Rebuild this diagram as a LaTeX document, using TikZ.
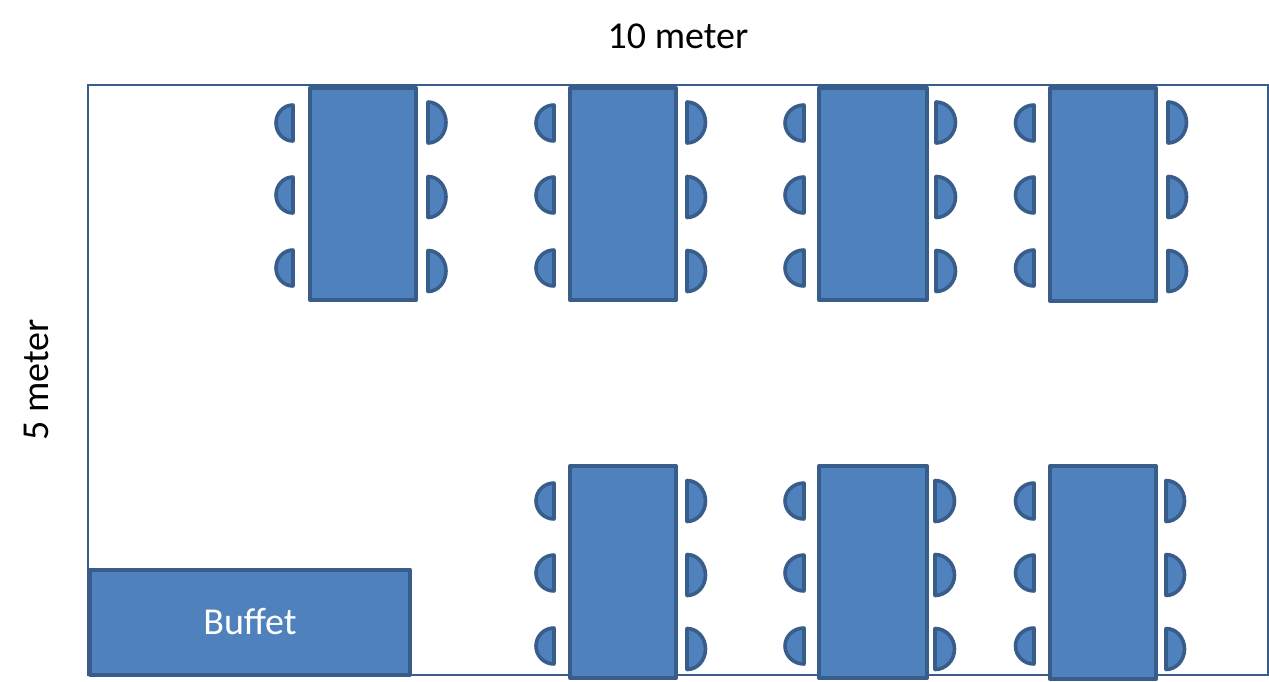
\documentclass[tikz,border=0pt]{standalone}
\usepackage{fontspec}
\setmainfont{Carlito}
\definecolor{tablefill}{HTML}{4F81BD}
\definecolor{tableline}{HTML}{385D8A}
\tikzset{
  room/.style={draw=tableline,line width=2pt},
  furniture/.style={draw=tableline,fill=tablefill,line width=4pt,line join=round},
  chair/.style={draw=tableline,fill=tablefill,line width=3.6pt,line join=round},
  dimlabel/.style={font=\fontsize{38}{40}\selectfont,text=black,inner sep=0pt},
}
\newcommand{\chairL}[3]{% flat x, bulge x, centre y
  \pgfmathsetmacro{\rx}{#1-#2}
  \draw[chair] (#1,#3-18) arc[start angle=90,end angle=270,x radius=\rx pt,y radius=18pt] -- cycle;}
\newcommand{\chairR}[3]{%
  \pgfmathsetmacro{\rx}{#2-#1}
  \draw[chair] (#1,#3-20.5) arc[start angle=90,end angle=-90,x radius=\rx pt,y radius=20.5pt] -- cycle;}
\begin{document}
\begin{tikzpicture}[x=1pt,y=-1pt]
\useasboundingbox (0,0) rectangle (1269,681);
\draw[room] (87.5,85) rectangle (1267.5,675);
\node[dimlabel] (top) at (678,36) {10 meter};
\node[dimlabel,rotate=90] (side) at (36,380) {5 meter};
\node[furniture,minimum width=320pt,minimum height=105pt,inner sep=0pt,text=white,font=\fontsize{38}{40}\selectfont] (buffet) at (250,622) {Buffet};
% top row tables
\draw[furniture] (310,88) rectangle (416,300);
\draw[furniture] (570,88) rectangle (676,300);
\draw[furniture] (819,88) rectangle (927,300);
\draw[furniture] (1050,88) rectangle (1156,301);
% bottom row tables
\draw[furniture] (570,466) rectangle (676,678);
\draw[furniture] (819,466) rectangle (927,678);
\draw[furniture] (1050,466) rectangle (1156,679);
% top row chairs
\foreach \yl/\yr in {123/122.5,195/197,268/271}{
  \chairL{293}{276}{\yl}\chairR{428}{446}{\yr}
  \chairL{554}{536}{\yl}\chairR{687}{705.5}{\yr}
  \chairL{804}{785}{\yl}\chairR{936}{955.5}{\yr}
  \chairL{1034}{1015.5}{\yl}\chairR{1168}{1186.5}{\yr}
}
% bottom row chairs
\foreach \yl/\yr in {501/501,573/575,646/649}{
  \chairL{554}{536}{\yl}\chairR{687}{705.5}{\yr}
  \chairL{804}{785}{\yl}\chairR{935}{954.5}{\yr}
  \chairL{1034}{1015.5}{\yl}\chairR{1166}{1184.5}{\yr}
}
\end{tikzpicture}
\end{document}
